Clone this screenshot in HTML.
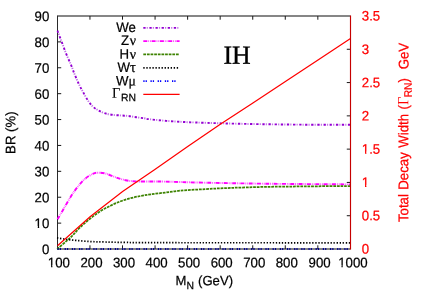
<!DOCTYPE html>
<html><head><meta charset="utf-8"><title>BR plot IH</title>
<style>
html,body{margin:0;padding:0;background:#fff;}
body{width:436px;height:305px;overflow:hidden;font-family:"Liberation Sans",sans-serif;}
svg{display:block;will-change:transform;text-rendering:geometricPrecision;}
text{white-space:pre;}
</style></head><body>
<svg width="436" height="305" viewBox="0 0 436 305" font-family="'Liberation Sans', sans-serif" font-size="13" fill="#000">
<rect x="0" y="0" width="436" height="305" fill="#fff"/>
<defs><filter id="soft" x="0" y="0" width="436" height="305" filterUnits="userSpaceOnUse"><feGaussianBlur stdDeviation="0.3"/></filter></defs>
<g filter="url(#soft)">
<clipPath id="c"><rect x="56.50" y="16.00" width="295.00" height="234.20"/></clipPath>
<g clip-path="url(#c)">
</g>
<line x1="57.50" y1="16.00" x2="350.50" y2="16.00" stroke="#000" stroke-width="1" stroke-opacity="0.95"/>
<line x1="57.50" y1="249.00" x2="350.50" y2="249.00" stroke="#000" stroke-width="1" stroke-opacity="0.95"/>
<line x1="57.50" y1="15.50" x2="57.50" y2="249.50" stroke="#2a2a2a" stroke-width="1.05"/>
<text transform="translate(49.30 254.00) rotate(0.03) scale(1 1.040)" font-size="13.25" text-anchor="end" stroke="#000" stroke-width="0.22">0</text>

<line x1="57.50" y1="223.11" x2="61.20" y2="223.11" stroke="#1a1a1a" stroke-width="1.0"/>
<text transform="translate(49.30 228.11) rotate(0.03) scale(1 1.040)" font-size="13.25" text-anchor="end" stroke="#000" stroke-width="0.22">10</text>
<rect x="34.17" y="226.03" width="3.61" height="3.13" fill="#fff"/><rect x="39.17" y="226.03" width="3.13" height="3.13" fill="#fff"/>
<line x1="57.50" y1="197.22" x2="61.20" y2="197.22" stroke="#1a1a1a" stroke-width="1.0"/>
<text transform="translate(49.30 202.22) rotate(0.03) scale(1 1.040)" font-size="13.25" text-anchor="end" stroke="#000" stroke-width="0.22">20</text>

<line x1="57.50" y1="171.33" x2="61.20" y2="171.33" stroke="#1a1a1a" stroke-width="1.0"/>
<text transform="translate(49.30 176.33) rotate(0.03) scale(1 1.040)" font-size="13.25" text-anchor="end" stroke="#000" stroke-width="0.22">30</text>

<line x1="57.50" y1="145.44" x2="61.20" y2="145.44" stroke="#1a1a1a" stroke-width="1.0"/>
<text transform="translate(49.30 150.44) rotate(0.03) scale(1 1.040)" font-size="13.25" text-anchor="end" stroke="#000" stroke-width="0.22">40</text>

<line x1="57.50" y1="119.56" x2="61.20" y2="119.56" stroke="#1a1a1a" stroke-width="1.0"/>
<text transform="translate(49.30 124.56) rotate(0.03) scale(1 1.040)" font-size="13.25" text-anchor="end" stroke="#000" stroke-width="0.22">50</text>

<line x1="57.50" y1="93.67" x2="61.20" y2="93.67" stroke="#1a1a1a" stroke-width="1.0"/>
<text transform="translate(49.30 98.67) rotate(0.03) scale(1 1.040)" font-size="13.25" text-anchor="end" stroke="#000" stroke-width="0.22">60</text>

<line x1="57.50" y1="67.78" x2="61.20" y2="67.78" stroke="#1a1a1a" stroke-width="1.0"/>
<text transform="translate(49.30 72.78) rotate(0.03) scale(1 1.040)" font-size="13.25" text-anchor="end" stroke="#000" stroke-width="0.22">70</text>

<line x1="57.50" y1="41.89" x2="61.20" y2="41.89" stroke="#1a1a1a" stroke-width="1.0"/>
<text transform="translate(49.30 46.89) rotate(0.03) scale(1 1.040)" font-size="13.25" text-anchor="end" stroke="#000" stroke-width="0.22">80</text>

<text transform="translate(49.30 21.00) rotate(0.03) scale(1 1.040)" font-size="13.25" text-anchor="end" stroke="#000" stroke-width="0.22">90</text>

<text transform="translate(361.80 253.60) rotate(0.03) scale(1 1.040)" font-size="13.25" fill="#ff0000" stroke="#ff0000" stroke-width="0.22">0</text>

<line x1="350.50" y1="215.71" x2="346.80" y2="215.71" stroke="#1a1a1a" stroke-width="1.0"/>
<text transform="translate(361.80 220.31) rotate(0.03) scale(1 1.040)" font-size="13.25" fill="#ff0000" stroke="#ff0000" stroke-width="0.22">0.5</text>

<line x1="350.50" y1="182.43" x2="346.80" y2="182.43" stroke="#1a1a1a" stroke-width="1.0"/>
<text transform="translate(361.80 187.03) rotate(0.03) scale(1 1.040)" font-size="13.25" fill="#ff0000" stroke="#ff0000" stroke-width="0.22">1</text>
<rect x="361.41" y="184.95" width="3.61" height="3.13" fill="#fff"/><rect x="366.41" y="184.95" width="3.13" height="3.13" fill="#fff"/>
<line x1="350.50" y1="149.14" x2="346.80" y2="149.14" stroke="#1a1a1a" stroke-width="1.0"/>
<text transform="translate(361.80 153.74) rotate(0.03) scale(1 1.040)" font-size="13.25" fill="#ff0000" stroke="#ff0000" stroke-width="0.22">1.5</text>
<rect x="361.41" y="151.66" width="3.61" height="3.13" fill="#fff"/><rect x="366.41" y="151.66" width="3.13" height="3.13" fill="#fff"/>
<line x1="350.50" y1="115.86" x2="346.80" y2="115.86" stroke="#1a1a1a" stroke-width="1.0"/>
<text transform="translate(361.80 120.46) rotate(0.03) scale(1 1.040)" font-size="13.25" fill="#ff0000" stroke="#ff0000" stroke-width="0.22">2</text>

<line x1="350.50" y1="82.57" x2="346.80" y2="82.57" stroke="#1a1a1a" stroke-width="1.0"/>
<text transform="translate(361.80 87.17) rotate(0.03) scale(1 1.040)" font-size="13.25" fill="#ff0000" stroke="#ff0000" stroke-width="0.22">2.5</text>

<line x1="350.50" y1="49.29" x2="346.80" y2="49.29" stroke="#1a1a1a" stroke-width="1.0"/>
<text transform="translate(361.80 53.89) rotate(0.03) scale(1 1.040)" font-size="13.25" fill="#ff0000" stroke="#ff0000" stroke-width="0.22">3</text>

<text transform="translate(361.80 20.60) rotate(0.03) scale(1 1.040)" font-size="13.25" fill="#ff0000" stroke="#ff0000" stroke-width="0.22">3.5</text>

<text transform="translate(58.90 267.30) rotate(0.03) scale(1 1.040)" font-size="13.25" text-anchor="middle" stroke="#000" stroke-width="0.22">100</text>
<rect x="47.46" y="265.22" width="3.61" height="3.13" fill="#fff"/><rect x="52.46" y="265.22" width="3.13" height="3.13" fill="#fff"/>
<line x1="89.96" y1="249.00" x2="89.96" y2="245.30" stroke="#1a1a1a" stroke-width="1.0"/>
<line x1="89.96" y1="16.00" x2="89.96" y2="19.70" stroke="#1a1a1a" stroke-width="1.0"/>
<text transform="translate(91.46 267.30) rotate(0.03) scale(1 1.040)" font-size="13.25" text-anchor="middle" stroke="#000" stroke-width="0.22">200</text>

<line x1="122.51" y1="249.00" x2="122.51" y2="245.30" stroke="#1a1a1a" stroke-width="1.0"/>
<line x1="122.51" y1="16.00" x2="122.51" y2="19.70" stroke="#1a1a1a" stroke-width="1.0"/>
<text transform="translate(124.01 267.30) rotate(0.03) scale(1 1.040)" font-size="13.25" text-anchor="middle" stroke="#000" stroke-width="0.22">300</text>

<line x1="155.07" y1="249.00" x2="155.07" y2="245.30" stroke="#1a1a1a" stroke-width="1.0"/>
<line x1="155.07" y1="16.00" x2="155.07" y2="19.70" stroke="#1a1a1a" stroke-width="1.0"/>
<text transform="translate(156.57 267.30) rotate(0.03) scale(1 1.040)" font-size="13.25" text-anchor="middle" stroke="#000" stroke-width="0.22">400</text>

<line x1="187.62" y1="249.00" x2="187.62" y2="245.30" stroke="#1a1a1a" stroke-width="1.0"/>
<line x1="187.62" y1="16.00" x2="187.62" y2="19.70" stroke="#1a1a1a" stroke-width="1.0"/>
<text transform="translate(189.12 267.30) rotate(0.03) scale(1 1.040)" font-size="13.25" text-anchor="middle" stroke="#000" stroke-width="0.22">500</text>

<line x1="220.18" y1="249.00" x2="220.18" y2="245.30" stroke="#1a1a1a" stroke-width="1.0"/>
<line x1="220.18" y1="16.00" x2="220.18" y2="19.70" stroke="#1a1a1a" stroke-width="1.0"/>
<text transform="translate(221.68 267.30) rotate(0.03) scale(1 1.040)" font-size="13.25" text-anchor="middle" stroke="#000" stroke-width="0.22">600</text>

<line x1="252.73" y1="249.00" x2="252.73" y2="245.30" stroke="#1a1a1a" stroke-width="1.0"/>
<line x1="252.73" y1="16.00" x2="252.73" y2="19.70" stroke="#1a1a1a" stroke-width="1.0"/>
<text transform="translate(254.23 267.30) rotate(0.03) scale(1 1.040)" font-size="13.25" text-anchor="middle" stroke="#000" stroke-width="0.22">700</text>

<line x1="285.29" y1="249.00" x2="285.29" y2="245.30" stroke="#1a1a1a" stroke-width="1.0"/>
<line x1="285.29" y1="16.00" x2="285.29" y2="19.70" stroke="#1a1a1a" stroke-width="1.0"/>
<text transform="translate(286.79 267.30) rotate(0.03) scale(1 1.040)" font-size="13.25" text-anchor="middle" stroke="#000" stroke-width="0.22">800</text>

<line x1="317.84" y1="249.00" x2="317.84" y2="245.30" stroke="#1a1a1a" stroke-width="1.0"/>
<line x1="317.84" y1="16.00" x2="317.84" y2="19.70" stroke="#1a1a1a" stroke-width="1.0"/>
<text transform="translate(319.64 267.30) rotate(0.03) scale(1 1.040)" font-size="13.25" text-anchor="middle" stroke="#000" stroke-width="0.22">900</text>

<text transform="translate(352.90 267.30) rotate(0.03) scale(1 1.040)" font-size="13.25" text-anchor="middle" stroke="#000" stroke-width="0.22">1000</text>
<rect x="337.77" y="265.22" width="3.61" height="3.13" fill="#fff"/><rect x="342.77" y="265.22" width="3.13" height="3.13" fill="#fff"/>
<g clip-path="url(#c)">
<path d="M57.40 30.60 C58.07 32.35 59.93 37.22 61.40 41.10 C62.87 44.98 64.58 49.90 66.20 53.90 C67.82 57.90 69.72 61.75 71.10 65.10 C72.48 68.45 73.25 70.93 74.50 74.00 C75.75 77.07 77.23 80.60 78.60 83.50 C79.97 86.40 81.13 88.55 82.70 91.40 C84.27 94.25 86.32 98.08 88.00 100.60 C89.68 103.12 91.18 104.93 92.80 106.50 C94.42 108.07 95.82 108.92 97.70 110.00 C99.58 111.08 101.70 112.20 104.10 113.00 C106.50 113.80 109.43 114.40 112.10 114.80 C114.77 115.20 117.42 115.20 120.10 115.40 C122.78 115.60 125.52 115.70 128.20 116.00 C130.88 116.30 133.53 116.82 136.20 117.20 C138.87 117.58 141.90 117.95 144.20 118.30 C146.50 118.65 145.58 118.82 150.00 119.30 C154.42 119.78 163.05 120.67 170.70 121.20 C178.35 121.73 183.43 122.05 195.90 122.50 C208.37 122.95 227.32 123.53 245.50 123.90 C263.68 124.27 287.50 124.55 305.00 124.70 C322.50 124.85 342.92 124.78 350.50 124.80" fill="none" stroke="#9400d3" stroke-width="1.9" stroke-dasharray="2.3 3.8" stroke-dashoffset="0"/>
<path d="M57.40 30.60 C58.07 32.35 59.93 37.22 61.40 41.10 C62.87 44.98 64.58 49.90 66.20 53.90 C67.82 57.90 69.72 61.75 71.10 65.10 C72.48 68.45 73.25 70.93 74.50 74.00 C75.75 77.07 77.23 80.60 78.60 83.50 C79.97 86.40 81.13 88.55 82.70 91.40 C84.27 94.25 86.32 98.08 88.00 100.60 C89.68 103.12 91.18 104.93 92.80 106.50 C94.42 108.07 95.82 108.92 97.70 110.00 C99.58 111.08 101.70 112.20 104.10 113.00 C106.50 113.80 109.43 114.40 112.10 114.80 C114.77 115.20 117.42 115.20 120.10 115.40 C122.78 115.60 125.52 115.70 128.20 116.00 C130.88 116.30 133.53 116.82 136.20 117.20 C138.87 117.58 141.90 117.95 144.20 118.30 C146.50 118.65 145.58 118.82 150.00 119.30 C154.42 119.78 163.05 120.67 170.70 121.20 C178.35 121.73 183.43 122.05 195.90 122.50 C208.37 122.95 227.32 123.53 245.50 123.90 C263.68 124.27 287.50 124.55 305.00 124.70 C322.50 124.85 342.92 124.78 350.50 124.80" fill="none" stroke="#9400d3" stroke-width="1.9" stroke-dasharray="1.2 4.9" stroke-dashoffset="-3.4" stroke-opacity="0.55"/>
<path d="M57.50 219.30 C58.42 217.75 60.75 213.83 63.00 210.00 C65.25 206.17 68.47 200.27 71.00 196.30 C73.53 192.33 75.82 189.15 78.20 186.20 C80.58 183.25 82.87 180.65 85.30 178.60 C87.73 176.55 90.70 174.88 92.80 173.90 C94.90 172.92 95.78 172.77 97.90 172.70 C100.02 172.63 102.57 172.75 105.50 173.50 C108.43 174.25 112.15 176.08 115.50 177.20 C118.85 178.32 122.23 179.50 125.60 180.20 C128.97 180.90 131.48 181.18 135.70 181.40 C139.92 181.62 146.02 181.47 150.90 181.50 C155.78 181.53 155.90 181.40 165.00 181.60 C174.10 181.80 188.83 182.35 205.50 182.70 C222.17 183.05 240.83 183.42 265.00 183.70 C289.17 183.98 336.25 184.28 350.50 184.40" fill="none" stroke="#ff00ff" stroke-width="1.9" stroke-dasharray="4 4.3" stroke-dashoffset="0"/>
<path d="M57.50 219.30 C58.42 217.75 60.75 213.83 63.00 210.00 C65.25 206.17 68.47 200.27 71.00 196.30 C73.53 192.33 75.82 189.15 78.20 186.20 C80.58 183.25 82.87 180.65 85.30 178.60 C87.73 176.55 90.70 174.88 92.80 173.90 C94.90 172.92 95.78 172.77 97.90 172.70 C100.02 172.63 102.57 172.75 105.50 173.50 C108.43 174.25 112.15 176.08 115.50 177.20 C118.85 178.32 122.23 179.50 125.60 180.20 C128.97 180.90 131.48 181.18 135.70 181.40 C139.92 181.62 146.02 181.47 150.90 181.50 C155.78 181.53 155.90 181.40 165.00 181.60 C174.10 181.80 188.83 182.35 205.50 182.70 C222.17 183.05 240.83 183.42 265.00 183.70 C289.17 183.98 336.25 184.28 350.50 184.40" fill="none" stroke="#ff00ff" stroke-width="1.9" stroke-dasharray="0.9 0.9 0.9 5.6" stroke-dashoffset="-4.9" stroke-opacity="0.7"/>
<path d="M57.00 249.20 C58.57 247.85 63.73 243.47 66.40 241.10 C69.07 238.73 70.70 237.32 73.00 235.00 C75.30 232.68 77.32 229.95 80.20 227.20 C83.08 224.45 86.93 221.18 90.30 218.50 C93.67 215.82 97.03 213.23 100.40 211.10 C103.77 208.97 107.13 207.33 110.50 205.70 C113.87 204.07 117.23 202.55 120.60 201.30 C123.97 200.05 127.33 199.10 130.70 198.20 C134.07 197.30 137.43 196.55 140.80 195.90 C144.17 195.25 146.87 194.85 150.90 194.30 C154.93 193.75 160.12 193.20 165.00 192.60 C169.88 192.00 173.45 191.28 180.20 190.70 C186.95 190.12 197.08 189.57 205.50 189.10 C213.92 188.63 220.78 188.27 230.70 187.90 C240.62 187.53 252.62 187.15 265.00 186.90 C277.38 186.65 290.75 186.55 305.00 186.40 C319.25 186.25 342.92 186.07 350.50 186.00" fill="none" stroke="#3c8200" stroke-width="1.75" stroke-dasharray="2.75 0.88" stroke-dashoffset="0"/>
<path d="M57.00 237.90 C58.33 238.12 62.33 238.83 65.00 239.20 C67.67 239.57 68.95 239.72 73.00 240.10 C77.05 240.48 83.97 241.18 89.30 241.50 C94.63 241.82 99.05 241.85 105.00 242.00 C110.95 242.15 115.83 242.28 125.00 242.40 C134.17 242.52 122.42 242.63 160.00 242.70 C197.58 242.77 318.75 242.78 350.50 242.80" fill="none" stroke="#000000" stroke-width="1.7" stroke-dasharray="1.35 1.69" stroke-dashoffset="0"/>
<path d="M57.50 249.00 L350.50 249.00" fill="none" stroke="#000094" stroke-width="1.9" stroke-dasharray="1.2 1.1 1.2 3.67" stroke-dashoffset="0"/>
<path d="M57.50 245.80 L90.06 216.80 L122.60 191.60 L155.20 169.30 L187.70 146.50 L220.30 124.20 L252.90 102.90 L285.40 81.60 L318.00 60.00 L350.50 38.40" fill="none" stroke="#ff0000" stroke-width="1.25"/>
</g>
<line x1="350.50" y1="15.50" x2="350.50" y2="249.50" stroke="#c60000" stroke-width="1.15"/>
<text transform="translate(135.90 31.90) rotate(0.03) scale(1 1.040)" font-size="13.25" text-anchor="end" stroke="#000" stroke-width="0.22">We</text>
<path d="M143.30 27.90 L179.60 27.90" fill="none" stroke="#9400d3" stroke-width="1.9" stroke-dasharray="2.3 3.8" stroke-dashoffset="0"/>
<path d="M143.30 27.90 L179.60 27.90" fill="none" stroke="#9400d3" stroke-width="1.9" stroke-dasharray="1.2 4.9" stroke-dashoffset="-3.4" stroke-opacity="0.55"/>
<text transform="translate(135.90 45.10) rotate(0.03) scale(1 1.040)" font-size="13.25" text-anchor="end" stroke="#000" stroke-width="0.22">Z<tspan font-family="'Liberation Serif', serif" font-size="13.8" dx="0.5">ν</tspan></text>
<path d="M143.30 41.10 L179.60 41.10" fill="none" stroke="#ff00ff" stroke-width="1.9" stroke-dasharray="4 4.3" stroke-dashoffset="0"/>
<path d="M143.30 41.10 L179.60 41.10" fill="none" stroke="#ff00ff" stroke-width="1.9" stroke-dasharray="0.9 0.9 0.9 5.6" stroke-dashoffset="-4.9" stroke-opacity="0.7"/>
<text transform="translate(135.90 58.70) rotate(0.03) scale(1 1.040)" font-size="13.25" text-anchor="end" stroke="#000" stroke-width="0.22">H<tspan font-family="'Liberation Serif', serif" font-size="13.8" dx="0.5">ν</tspan></text>
<path d="M143.30 54.40 L179.60 54.40" fill="none" stroke="#3c8200" stroke-width="1.75" stroke-dasharray="2.75 0.88" stroke-dashoffset="0"/>
<text transform="translate(135.90 71.90) rotate(0.03) scale(1 1.040)" font-size="13.25" text-anchor="end" stroke="#000" stroke-width="0.22">W<tspan font-family="'Liberation Serif', serif" font-size="14.6">τ</tspan></text>
<path d="M143.30 67.80 L179.60 67.80" fill="none" stroke="#000000" stroke-width="1.7" stroke-dasharray="1.35 1.69" stroke-dashoffset="0"/>
<text transform="translate(135.90 85.60) rotate(0.03) scale(1 1.040)" font-size="13.25" text-anchor="end" stroke="#000" stroke-width="0.22">W<tspan font-family="'Liberation Serif', serif" font-size="13.8">μ</tspan></text>
<path d="M143.30 81.20 L177.60 81.20" fill="none" stroke="#0000ff" stroke-width="1.8" stroke-dasharray="1.3 1.0 1.3 3.57" stroke-dashoffset="0"/>
<text transform="translate(135.90 97.80) rotate(0.03) scale(1 1.040)" font-size="13.25" text-anchor="end" stroke="#000" stroke-width="0.22"><tspan font-family="'Liberation Serif', serif" font-size="14.3" stroke-width="0.1">Γ</tspan><tspan font-size="10.4" dy="3.3" dx="0.5">RN</tspan></text>
<path d="M143.30 94.40 L179.60 94.40" fill="none" stroke="#ff0000" stroke-width="1.25"/>
<text transform="translate(223.5 63.8) rotate(0.03) scale(1 1.015)" font-family="'Liberation Serif', serif" font-size="25.8" stroke="#000" stroke-width="0.35">IH</text>
<text transform="translate(175.40 285.30) rotate(0.03) scale(1 1.040)" font-size="13.1" stroke="#000" stroke-width="0.22">M<tspan font-size="10.4" dy="3.7" dx="0.3">N</tspan><tspan dy="-3.7" dx="0.3"> (GeV)</tspan></text>
<text transform="translate(15.30 153.90) rotate(-89.97) scale(1 1.040)" font-size="13.2" stroke="#000" stroke-width="0.22">BR (%)</text>
<text transform="translate(408.30 222.10) rotate(-89.97) scale(1 1.063)" font-size="13.25" fill="#ff0000" stroke="#ff0000" stroke-width="0.22" word-spacing="0.72">Total Decay Width (<tspan font-family="'Liberation Serif', serif" font-size="14.6" stroke="none" dx="0">Γ</tspan><tspan font-size="10.2" dy="3.2" dx="-0.6">RN</tspan><tspan dy="-3.2">)  GeV</tspan></text>
</g>
</svg>
</body></html>
